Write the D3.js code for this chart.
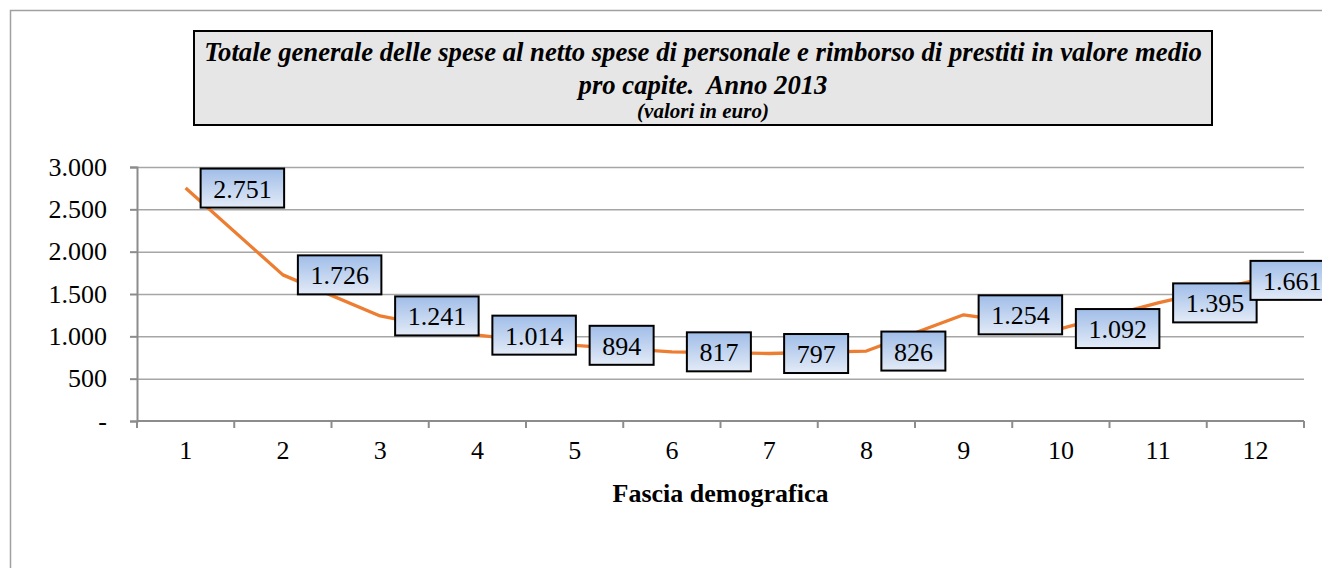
<!DOCTYPE html>
<html>
<head>
<meta charset="utf-8">
<script src="https://cdn.jsdelivr.net/npm/d3@7/dist/d3.min.js"></script>
<style>
  body { margin: 0; background: #fff; }
  svg { font-family: "Liberation Serif", "Times New Roman", serif; }
  .grid line { stroke: #a6a6a6; stroke-width: 1.5; }
  .grid path { display: none; }
  .axis path, .axis line { stroke: #8c8c8c; stroke-width: 2; }
  .axis text { font-size: 26px; fill: #000; font-family: "Liberation Serif", serif; }
</style>
</head>
<body>
<svg width="1322" height="568"></svg>
<script>
// dati: spesa media pro capite per fascia demografica
const fasce = ['1', '2', '3', '4', '5', '6', '7', '8', '9', '10', '11', '12'];
const valori = [2751, 1726, 1241, 1014, 894, 817, 797, 826, 1254, 1092, 1395, 1661];
const yTicks = [0, 500, 1000, 1500, 2000, 2500, 3000];

const svg = d3.select('svg');
const W = 1322, H = 568;

// cornice esterna
svg.append('rect')
  .attr('x', 10.5).attr('y', 10.5)
  .attr('width', W).attr('height', H)
  .attr('fill', 'none').attr('stroke', '#a0a0a0').attr('stroke-width', 1.5);

const pL = 137, pR = 1304, pT = 167, pB = 421;

const x = d3.scaleBand().domain(fasce).range([pL, pR]);
const y = d3.scaleLinear().domain([0, 3000]).range([pB, pT]);

const fmt = v => v === 0 ? '-' : d3.format(',')(v).replace(/,/g, '.');

// griglia orizzontale
svg.append('g')
  .attr('class', 'grid')
  .attr('transform', `translate(${pL},0)`)
  .call(d3.axisLeft(y).tickValues(yTicks.slice(1)).tickSize(-(pR - pL)).tickFormat(''));

// asse y
svg.append('g')
  .attr('class', 'axis')
  .attr('transform', `translate(${pL},0)`)
  .call(d3.axisLeft(y).tickValues(yTicks).tickSize(7).tickPadding(23).tickFormat(fmt));

// asse x, tacche ai bordi delle categorie
const xAxis = svg.append('g')
  .attr('class', 'axis')
  .attr('transform', `translate(0,${pB})`)
  .call(d3.axisBottom(x).tickSize(0).tickPadding(20));
xAxis.select('.domain').attr('d', `M${pL},0H${pR}`);
xAxis.selectAll('.edge')
  .data(d3.range(fasce.length + 1))
  .enter().append('line')
  .attr('x1', i => pL + i * x.step()).attr('x2', i => pL + i * x.step())
  .attr('y1', 0).attr('y2', 7);

// linea
const cx = d => x(d) + x.bandwidth() / 2;
svg.append('path')
  .datum(valori)
  .attr('fill', 'none')
  .attr('stroke', '#ed7d31')
  .attr('stroke-width', 3.3)
  .attr('stroke-linejoin', 'round')
  .attr('d', d3.line().x((v, i) => cx(fasce[i])).y(v => y(v)));

// etichette dati
const defs = svg.append('defs');
const grad = defs.append('linearGradient').attr('id', 'lab').attr('x1', 0).attr('y1', 0).attr('x2', 0).attr('y2', 1);
grad.append('stop').attr('offset', '0%').attr('stop-color', '#a0bde8');
grad.append('stop').attr('offset', '100%').attr('stop-color', '#e3ebf7');

const labels = svg.append('g').selectAll('g')
  .data(valori)
  .enter().append('g');

labels.each(function (v, i) {
  const g = d3.select(this);
  const t = g.append('text')
    .attr('font-size', 26)
    .attr('text-anchor', 'middle')
    .attr('dominant-baseline', 'central')
    .text(fmt(v));
  const w = t.node().getComputedTextLength() + 25;
  let bx = cx(fasce[i]) + 15;
  if (bx + w > 1334) bx = 1334 - w;
  const py = y(v);
  g.insert('rect', 'text')
    .attr('x', bx).attr('y', py - 19.5)
    .attr('width', w).attr('height', 39)
    .attr('fill', 'url(#lab)')
    .attr('stroke', '#000').attr('stroke-width', 2);
  t.attr('x', bx + w / 2).attr('y', py + 1);
});

// titolo asse x
svg.append('text')
  .attr('x', (pL + pR) / 2).attr('y', 493)
  .attr('text-anchor', 'middle').attr('dominant-baseline', 'central')
  .attr('font-size', 26).attr('font-weight', 'bold')
  .text('Fascia demografica');

// box titolo
svg.append('rect')
  .attr('x', 194).attr('y', 31)
  .attr('width', 1018).attr('height', 94)
  .attr('fill', '#e6e6e6').attr('stroke', '#000').attr('stroke-width', 2);

const tx = 703;
svg.append('text')
  .attr('x', tx).attr('y', 52)
  .attr('text-anchor', 'middle').attr('dominant-baseline', 'central')
  .attr('font-size', 26.7).attr('font-weight', 'bold').attr('font-style', 'italic')
  .text('Totale generale delle spese al netto spese di personale e rimborso di prestiti in valore medio');
svg.append('text')
  .attr('x', tx).attr('y', 85)
  .attr('text-anchor', 'middle').attr('dominant-baseline', 'central')
  .attr('font-size', 26.7).attr('font-weight', 'bold').attr('font-style', 'italic')
  .attr('xml:space', 'preserve')
  .text('pro capite.  Anno 2013');
svg.append('text')
  .attr('x', tx).attr('y', 111)
  .attr('text-anchor', 'middle').attr('dominant-baseline', 'central')
  .attr('font-size', 21).attr('font-weight', 'bold').attr('font-style', 'italic')
  .text('(valori in euro)');
</script>
</body>
</html>
